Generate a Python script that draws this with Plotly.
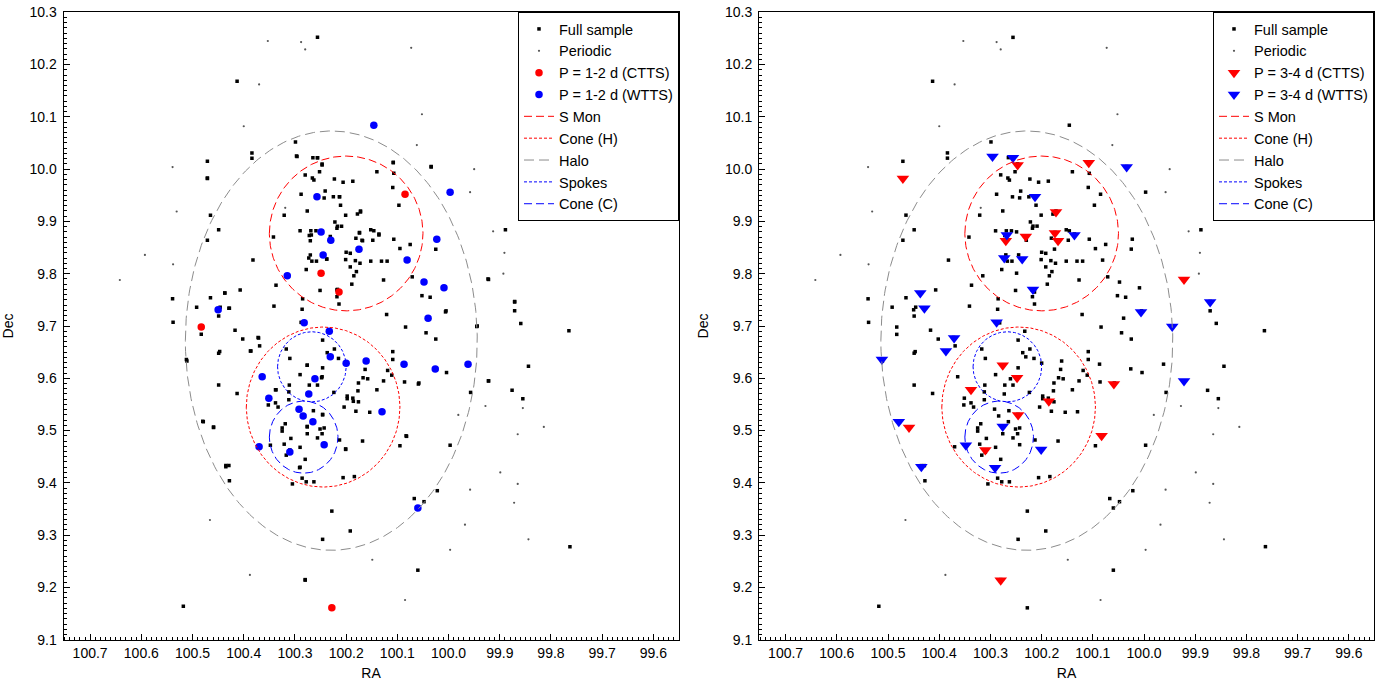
import numpy as np
import plotly.graph_objects as go

# ---------------- data (RA, Dec in degrees) ----------------
full_sample = [
    (100.256, 10.252), (100.413, 10.168),
    (100.299, 10.052), (100.384, 10.031), (100.384, 10.021), (100.471, 10.015), (100.297, 10.025),
    (100.265, 10.022), (100.256, 10.022), (100.247, 10.010), (100.471, 9.983), (100.252, 9.995),
    (100.280, 9.989), (100.266, 9.983), (100.263, 9.979), (100.223, 9.981), (100.206, 9.975),
    (100.187, 9.977), (100.108, 10.013), (100.140, 9.995), (100.107, 9.992), (100.109, 9.965),
    (100.034, 10.005), (100.241, 9.958), (100.243, 9.945), (100.225, 9.947), (100.213, 9.947),
    (100.288, 9.952), (100.211, 9.931), (100.276, 9.920), (100.321, 9.912), (100.465, 9.912),
    (100.097, 9.931), (100.172, 9.920), (100.178, 9.914), (100.201, 9.912), (100.449, 9.884),
    (100.471, 9.864), (100.342, 9.870), (100.290, 9.882), (100.269, 9.882), (100.259, 9.882),
    (100.272, 9.873), (100.222, 9.899), (100.217, 9.891), (100.209, 9.891), (100.218, 9.887),
    (100.174, 9.879), (100.181, 9.868), (100.152, 9.884), (100.146, 9.882), (100.136, 9.876),
    (100.169, 9.864), (100.148, 9.864), (100.107, 9.866), (100.075, 9.856), (100.095, 9.848),
    (100.025, 9.847), (100.270, 9.836), (100.267, 9.824), (100.258, 9.824), (100.238, 9.828),
    (100.200, 9.841), (100.192, 9.839), (100.201, 9.827), (100.182, 9.825), (100.173, 9.820),
    (100.192, 9.813), (100.152, 9.824), (100.131, 9.824), (100.120, 9.824), (100.278, 9.808),
    (100.185, 9.796), (100.180, 9.804), (100.127, 9.788), (100.071, 9.794), (100.382, 9.826),
    (100.407, 9.769), (100.437, 9.763), (100.465, 9.754), (100.492, 9.736), (100.446, 9.736),
    (100.428, 9.734), (100.449, 9.719), (100.337, 9.778), (100.251, 9.768), (100.189, 9.780),
    (100.218, 9.769), (100.218, 9.756), (100.214, 9.742), (100.286, 9.732), (100.285, 9.752),
    (100.341, 9.738), (100.052, 9.758), (100.036, 9.755), (100.121, 9.722), (100.084, 9.698),
    (100.044, 9.687), (100.025, 9.675), (100.005, 9.729), (99.923, 9.790), (99.944, 9.700),
    (100.539, 9.752), (100.538, 9.707), (100.483, 9.684), (100.417, 9.692), (100.402, 9.675),
    (100.372, 9.678), (100.369, 9.662), (100.246, 9.673),
    (100.386, 9.652), (100.447, 9.651), (100.449, 9.648), (100.317, 9.656), (100.310, 9.638),
    (100.237, 9.649), (100.223, 9.656), (100.215, 9.638), (100.109, 9.651), (100.109, 9.636),
    (100.511, 9.633), (100.449, 9.587), (100.480, 9.518), (100.459, 9.507), (100.413, 9.571),
    (100.337, 9.578), (100.311, 9.587), (100.312, 9.574), (100.312, 9.559), (100.276, 9.625),
    (100.246, 9.620), (100.247, 9.603), (100.290, 9.607), (100.272, 9.587), (100.256, 9.587),
    (100.224, 9.573), (100.198, 9.566), (100.198, 9.561), (100.187, 9.562), (100.176, 9.555),
    (100.177, 9.576), (100.176, 9.591), (100.167, 9.601), (100.158, 9.599), (100.163, 9.617),
    (100.140, 9.578), (100.127, 9.595), (100.119, 9.615), (100.111, 9.606), (100.086, 9.593),
    (100.058, 9.591), (100.154, 9.535), (100.181, 9.537), (100.204, 9.545), (100.352, 9.549),
    (100.338, 9.553), (100.333, 9.545), (100.264, 9.538), (100.246, 9.531), (100.325, 9.505),
    (100.325, 9.499), (100.319, 9.513), (100.276, 9.507), (100.251, 9.503), (100.243, 9.505),
    (100.247, 9.494), (100.276, 9.494), (100.256, 9.486), (100.308, 9.485), (100.321, 9.474),
    (100.290, 9.468), (100.317, 9.453), (100.280, 9.445), (100.290, 9.430), (100.286, 9.409),
    (100.278, 9.402), (100.263, 9.402), (100.305, 9.398), (100.213, 9.482), (100.201, 9.465),
    (100.168, 9.480), (100.082, 9.489), (100.095, 9.471), (99.997, 9.472), (99.957, 9.573),
    (99.922, 9.595), (100.004, 9.611), (100.428, 9.404), (100.435, 9.433), (100.429, 9.433),
    (100.206, 9.410), (100.184, 9.412), (100.022, 9.385), (100.067, 9.370), (100.048, 9.364),
    (100.228, 9.346), (100.192, 9.308), (100.246, 9.292), (100.060, 9.233), (100.280, 9.215),
    (100.518, 9.164),
    (99.889, 9.884), (99.871, 9.747), (99.871, 9.729), (99.859, 9.705), (99.765, 9.691),
    (99.844, 9.623), (99.876, 9.577), (99.855, 9.561), (99.763, 9.278),
]

periodic = [
    (100.353, 10.245), (100.288, 10.243), (100.280, 10.229), (100.073, 10.232), (100.370, 10.162),
    (99.913, 9.881), (99.891, 9.840), (99.893, 9.800), (99.928, 9.547), (99.855, 9.543),
    (99.814, 9.507), (99.865, 9.493), (99.899, 9.420), (99.865, 9.398), (99.872, 9.362),
    (99.844, 9.292), (100.593, 9.836), (100.539, 10.004), (100.531, 9.919), (100.538, 9.818),
    (100.642, 9.788), (100.400, 10.082), (100.052, 10.105), (100.062, 10.046), (99.950, 10.000),
    (99.958, 9.956), (100.319, 9.926), (99.981, 9.530), (99.958, 9.387), (99.968, 9.320),
    (100.149, 9.253), (100.085, 9.176), (100.388, 9.224), (100.466, 9.329), (99.997, 9.272),
]

ctts_12 = [(100.085, 9.952), (100.249, 9.801), (100.214, 9.765), (100.483, 9.698), (100.228, 9.161)]

wtts_12 = [
    (100.146, 10.084), (100.257, 9.947), (99.997, 9.956), (100.249, 9.880), (100.230, 9.864),
    (100.175, 9.847), (100.023, 9.866), (100.245, 9.836), (100.081, 9.826), (100.315, 9.796),
    (100.048, 9.784), (100.009, 9.773), (100.450, 9.731), (100.040, 9.715), (100.282, 9.706),
    (100.233, 9.690), (100.231, 9.641), (100.200, 9.629), (100.161, 9.633), (100.087, 9.627),
    (100.026, 9.618), (99.962, 9.627), (100.364, 9.603), (100.261, 9.599), (100.273, 9.570),
    (100.351, 9.562), (100.292, 9.541), (100.284, 9.528), (100.265, 9.517), (100.130, 9.536),
    (100.243, 9.473), (100.370, 9.469), (100.310, 9.459), (100.060, 9.352),
]

ctts_34 = [
    (100.471, 9.982), (100.247, 10.008), (100.108, 10.012), (100.172, 9.918), (100.270, 9.863),
    (100.231, 9.871), (100.174, 9.878), (100.168, 9.863), (99.922, 9.789), (100.276, 9.625),
    (100.248, 9.601), (100.338, 9.578), (100.186, 9.556), (100.059, 9.589), (100.246, 9.530),
    (100.459, 9.506), (100.083, 9.490), (100.310, 9.463), (100.280, 9.214),
]

wtts_34 = [
    (100.296, 10.024), (100.256, 10.022), (100.034, 10.004), (100.213, 9.947), (100.268, 9.874),
    (100.136, 9.874), (100.273, 9.830), (100.238, 9.828), (100.217, 9.770), (100.437, 9.763),
    (100.429, 9.734), (100.006, 9.727), (100.288, 9.707), (99.945, 9.699), (100.371, 9.677),
    (100.387, 9.652), (100.512, 9.636), (100.479, 9.517), (100.435, 9.431), (100.276, 9.508),
    (100.348, 9.472), (100.201, 9.464), (100.291, 9.429), (99.922, 9.595), (99.871, 9.746),
]

region_names = ["S Mon", "Cone (H)", "Halo", "Spokes", "Cone (C)"]
region_ra = [100.200, 100.245, 100.229, 100.267, 100.283]
region_dec = [9.877, 9.545, 9.672, 9.622, 9.4875]
region_rra = [0.150, 0.150, 0.285, 0.067, 0.067]
region_rdec = [0.148, 0.153, 0.401, 0.067, 0.069]
region_colors = ["#ff0000", "#ff0000", "#8c8c8c", "#0000ff", "#0000ff"]
region_dash = ["8px,4px", "3px,2px", "10px,5px", "3px,2px", "8px,4px"]

x_ticks = [round(99.6 + 0.1 * i, 1) for i in range(12)]
y_ticks = [round(9.1 + 0.1 * i, 1) for i in range(13)]

# ---------------- figure ----------------
W, H = 1381, 681
FONT = "Liberation Sans, Arial, Helvetica, sans-serif"


def split(pts):
    return [p[0] for p in pts], [p[1] for p in pts]


all_stars = full_sample + ctts_12 + wtts_12 + ctts_34 + wtts_34

fig = go.Figure()
theta = np.linspace(0, 2 * np.pi, 361)

panels = [
    ("x", "y", "legend", ctts_12, wtts_12, "P = 1-2 d", "circle", 7.5),
    ("x2", "y2", "legend2", ctts_34, wtts_34, "P = 3-4 d", "triangle-down", 11),
]

for xa, ya, lg, ctts, wtts, plab, sym, msize in panels:
    fx, fy = split(all_stars)
    fig.add_trace(go.Scatter(x=fx, y=fy, mode="markers", name="Full sample",
                             marker=dict(symbol="square", size=3.5, color="black", line=dict(width=0)),
                             xaxis=xa, yaxis=ya, legend=lg))
    px_, py_ = split(periodic)
    fig.add_trace(go.Scatter(x=px_, y=py_, mode="markers", name="Periodic",
                             marker=dict(symbol="circle", size=2.2, color="#555555", line=dict(width=0)),
                             xaxis=xa, yaxis=ya, legend=lg))
    cx, cy = split(ctts)
    fig.add_trace(go.Scatter(x=cx, y=cy, mode="markers", name=plab + " (CTTS)",
                             marker=dict(symbol=sym, size=msize, color="#ff0000", line=dict(width=0)),
                             xaxis=xa, yaxis=ya, legend=lg))
    wx, wy = split(wtts)
    fig.add_trace(go.Scatter(x=wx, y=wy, mode="markers", name=plab + " (WTTS)",
                             marker=dict(symbol=sym, size=msize, color="#0000ff", line=dict(width=0)),
                             xaxis=xa, yaxis=ya, legend=lg))
    for nm, ra0, de0, rr, rd, col, dsh in zip(region_names, region_ra, region_dec,
                                             region_rra, region_rdec, region_colors, region_dash):
        fig.add_trace(go.Scatter(x=ra0 + rr * np.cos(theta), y=de0 + rd * np.sin(theta),
                                 mode="lines", name=nm,
                                 line=dict(color=col, width=1, dash=dsh),
                                 xaxis=xa, yaxis=ya, legend=lg))

axis_common = dict(
    showline=True, mirror=True, linecolor="black", linewidth=1,
    showgrid=False, zeroline=False,
    ticks="inside", ticklen=6, tickwidth=1, tickcolor="black",
    minor=dict(ticks="inside", dtick=0.01, ticklen=3, tickwidth=1, tickcolor="black", showgrid=False),
    tickfont=dict(family=FONT, size=14, color="black"),
    tickformat=".1f", ticklabeloverflow="allow",
)

dom1 = [63.5 / W, 678.5 / W]
dom2 = [759.0 / W, 1374.0 / W]
xr = [100.752, 99.551]
yr = [9.0995, 10.3005]

legend_common = dict(y=1, xanchor="right", yanchor="top",
                     bgcolor="white", bordercolor="black", borderwidth=1,
                     font=dict(family=FONT, size=14.5, color="black"),
                     itemwidth=30, tracegroupgap=0)

fig.update_layout(
    width=W, height=H,
    margin=dict(l=0, r=0, t=12, b=41, autoexpand=False),
    paper_bgcolor="white", plot_bgcolor="white",
    font=dict(family=FONT, size=14, color="black"),
    hovermode=False,
    xaxis=dict(domain=dom1, range=xr, anchor="y", tickvals=x_ticks,
               title=dict(text="RA", font=dict(size=14), standoff=11), **axis_common),
    yaxis=dict(domain=[0, 1], range=yr, anchor="x", tickvals=y_ticks, ticklabelstandoff=3,
               title=dict(text="Dec", font=dict(size=14), standoff=13), **axis_common),
    xaxis2=dict(domain=dom2, range=xr, anchor="y2", tickvals=x_ticks,
                title=dict(text="RA", font=dict(size=14), standoff=11), **axis_common),
    yaxis2=dict(domain=[0, 1], range=yr, anchor="x2", tickvals=y_ticks, ticklabelstandoff=3,
                title=dict(text="Dec", font=dict(size=14), standoff=13), **axis_common),
    legend=dict(x=679 / W, **legend_common),
    legend2=dict(x=1374 / W, **legend_common),
    showlegend=True,
)

# remove the default 8px page margin so the figure fills the window exactly
fig.write_html("out.html",
               config={"displayModeBar": False},
               post_script="document.body.style.margin='0px';document.body.style.overflow='hidden';")
